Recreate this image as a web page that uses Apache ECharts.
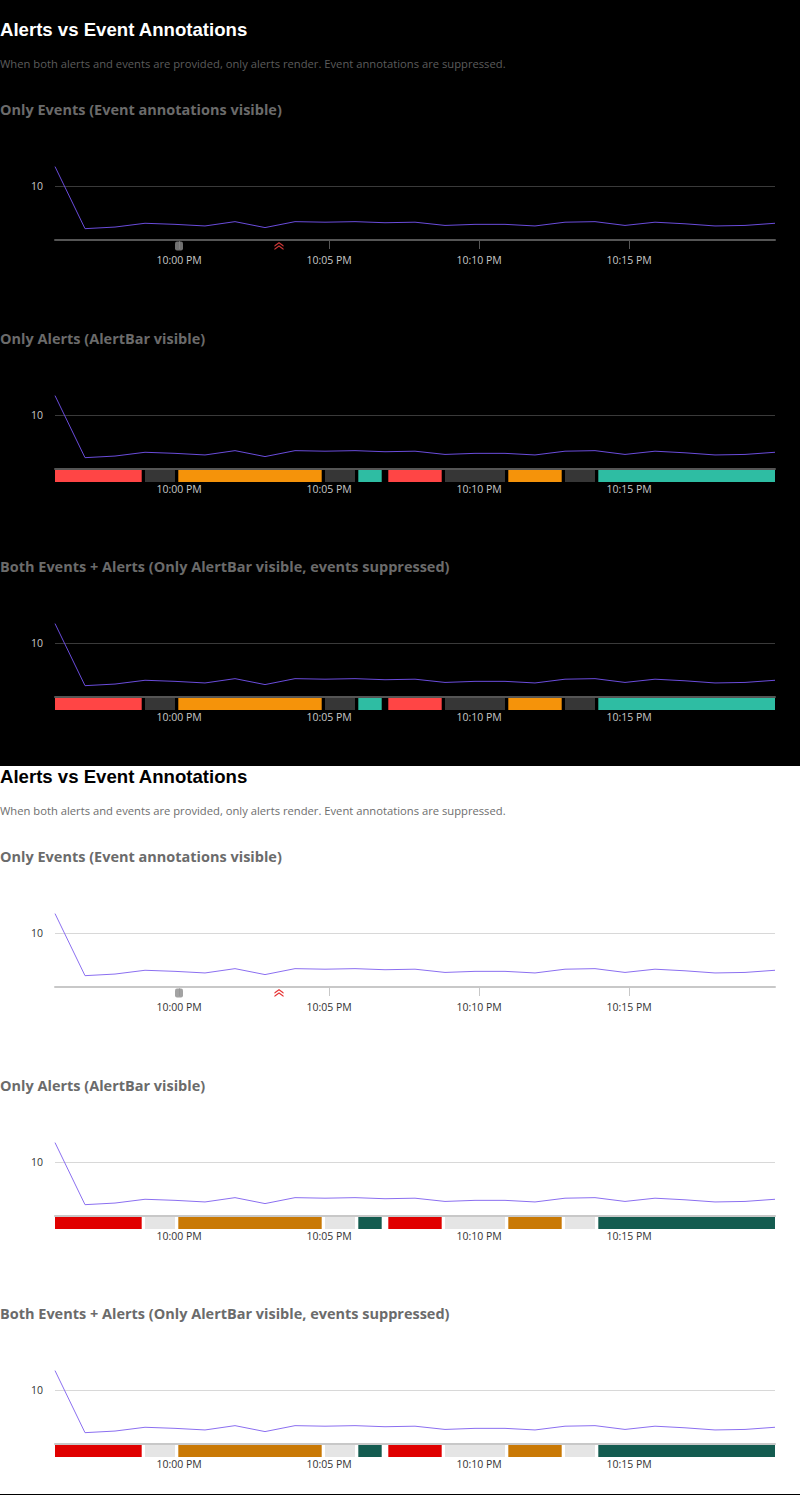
<!DOCTYPE html>
<html>
<head>
<meta charset="utf-8">
<title>Alerts vs Event Annotations</title>
<script src="https://cdn.jsdelivr.net/npm/echarts@6/dist/echarts.min.js"></script>
<style>
  html, body { margin: 0; padding: 0; }
  body { width: 800px; height: 1495px; position: relative; overflow: hidden; font-family: "Open Sans", sans-serif; }
  .section { position: absolute; left: 0; width: 800px; }
  .section.dark { top: 0; height: 766px; background: #000; }
  .section.light { top: 766px; height: 728px; background: #fff; border-bottom: 1px solid #000; }
  .section h1 { position: absolute; left: 0; margin: 0; font: bold 18.72px/22px "Liberation Sans", Arial, sans-serif; white-space: nowrap; }
  .section p { position: absolute; left: 0; margin: 0; font: 11px/14px "Open Sans", sans-serif; white-space: nowrap; }
  .section h3 { position: absolute; left: 0; margin: 0; font: bold 14px/18px "Open Sans", sans-serif; white-space: nowrap; }
  .chart { position: absolute; left: 0; width: 800px; height: 170px; }
</style>
</head>
<body>
<div class="section dark" id="dark"></div>
<div class="section light" id="light"></div>
<script>
// sample times and values of the metric line
const sampleTimes = ['21:55:52', '21:56:52', '21:57:52', '21:58:52', '21:59:52', '22:00:52', '22:01:52',
  '22:02:52', '22:03:52', '22:04:52', '22:05:52', '22:06:52', '22:07:52', '22:08:52', '22:09:52',
  '22:10:52', '22:11:52', '22:12:52', '22:13:52', '22:14:52', '22:15:52', '22:16:52', '22:17:52',
  '22:18:52', '22:19:52'];
const lineValues = [13.6, 2.1, 2.4, 3.1, 2.9, 2.6, 3.4, 2.3, 3.4, 3.3, 3.4, 3.2, 3.3, 2.7, 2.9,
  2.9, 2.6, 3.3, 3.4, 2.7, 3.3, 3.0, 2.6, 2.7, 3.1];

// alert bar segments
const alertStart = ['21:55:52', '21:58:52', '21:59:52', '22:04:52', '22:05:52', '22:06:52', '22:08:52', '22:10:52', '22:12:52', '22:13:52'];
const alertEnd   = ['21:58:52', '21:59:52', '22:04:52', '22:05:52', '22:06:52', '22:08:52', '22:10:52', '22:12:52', '22:13:52', '22:19:52'];
const alertState = ['critical', 'nodata', 'warning', 'nodata', 'ok', 'critical', 'nodata', 'warning', 'nodata', 'ok'];

// event annotations
const eventTimes = ['22:00:00', '22:03:20'];
const eventKinds = ['info', 'critical'];

// axis ticks
const xTickTimes = ['22:00:00', '22:05:00', '22:10:00', '22:15:00'];
const yTicks = [0, 10];

const blocks = [
  { title: 'Only Events (Event annotations visible)', events: true, alerts: false },
  { title: 'Only Alerts (AlertBar visible)', events: false, alerts: true },
  { title: 'Both Events + Alerts (Only AlertBar visible, events suppressed)', events: true, alerts: true }
];

const themes = {
  dark: {
    padTop: 19, title: '#ffffff', sub: '#5c5c5c', head: '#6b6b6b',
    label: '#c8c8c8', split: '#3a3a3a', axis: '#555555', line: '#6a4cdb',
    states: { critical: '#ff4545', nodata: '#363636', warning: '#f5930a', ok: '#2ebda3' },
    info: '#8c8c8c', crit: '#ff4545'
  },
  light: {
    padTop: 0, title: '#000000', sub: '#6e6e6e', head: '#6b6b6b',
    label: '#333333', split: '#d8d8d8', axis: '#c8c8c8', line: '#8b6ff0',
    states: { critical: '#e00000', nodata: '#e5e5e5', warning: '#c97905', ok: '#145c50' },
    info: '#8c8c8c', crit: '#e00000'
  }
};

const headCenters = [91, 319.5, 548];
const GAP = 3.3;

function ts(hms) {
  const p = hms.split(':').map(Number);
  return new Date(2024, 4, 14, p[0], p[1], p[2]).getTime();
}

function clock(v) {
  const d = new Date(v);
  let h = d.getHours();
  const ap = h >= 12 ? 'PM' : 'AM';
  h = h % 12 || 12;
  return h + ':' + String(d.getMinutes()).padStart(2, '0') + ' ' + ap;
}

// scale a text element's font so its width matches the reference
function fitFont(el, target) {
  const cs = getComputedStyle(el);
  const ctx = document.createElement('canvas').getContext('2d');
  ctx.font = cs.fontWeight + ' 100px ' + cs.fontFamily;
  const w = ctx.measureText(el.textContent).width;
  return (target * 100 / w).toFixed(2) + 'px';
}

const chevron = 'path://M0,4 L4.5,0 L9,4 L9,6 L4.5,2 L0,6 Z M0,8 L4.5,4 L9,8 L9,10 L4.5,6 L0,10 Z';

function buildOption(th, block) {
  const xMin = ts(sampleTimes[0]);
  const xMax = ts(sampleTimes[sampleTimes.length - 1]);
  const ticks = xTickTimes.map(ts);
  const series = [{
    type: 'line',
    data: sampleTimes.map((t, i) => [ts(t), lineValues[i]]),
    showSymbol: false,
    symbol: 'none',
    lineStyle: { width: 1, color: th.line },
    z: 3
  }];

  if (block.alerts) {
    series.push({
      type: 'custom',
      clip: false,
      z: 4,
      encode: { x: [0, 1] },
      data: alertStart.map((s, i) => [ts(s), ts(alertEnd[i]), i]),
      renderItem(params, api) {
        const i = api.value(2);
        const st = alertState[i];
        const p1 = api.coord([api.value(0), 0]);
        const p2 = api.coord([api.value(1), 0]);
        const cs = params.coordSys;
        let x1 = p1[0], x2 = p2[0];
        if (st !== 'nodata') {
          if (x1 > cs.x + 1) x1 += GAP;
          if (x2 < cs.x + cs.width - 1) x2 -= GAP;
        }
        return {
          type: 'rect',
          shape: { x: x1, y: p1[1] + 1, width: x2 - x1, height: 12 },
          style: { fill: th.states[st] }
        };
      }
    });
  } else if (block.events) {
    series.push({
      type: 'scatter',
      clip: false,
      z: 4,
      symbolOffset: [0, 6],
      data: eventTimes.map((t, i) => eventKinds[i] === 'info'
        ? { value: [ts(t), 0], symbol: 'roundRect', symbolSize: [8, 9], itemStyle: { color: th.info } }
        : { value: [ts(t), 0], symbol: chevron, symbolSize: [9, 8], itemStyle: { color: th.crit } })
    });
  }

  return {
    backgroundColor: 'transparent',
    animation: false,
    textStyle: { fontFamily: '"Open Sans", sans-serif' },
    grid: { left: 55, right: 25, top: 36.6, height: 73.4 },
    xAxis: {
      type: 'value',
      min: xMin,
      max: xMax,
      axisLine: { show: true, lineStyle: { color: th.axis, width: 2 } },
      axisTick: { show: true, length: 9, customValues: ticks, lineStyle: { color: th.axis } },
      splitLine: { show: false },
      axisLabel: {
        color: th.label, fontSize: 10.5, margin: 14, fontFamily: '"Open Sans", sans-serif',
        customValues: ticks,
        formatter: v => clock(v)
      }
    },
    yAxis: {
      type: 'value',
      min: yTicks[0],
      max: 'dataMax',
      interval: yTicks[1] - yTicks[0],
      axisLine: { show: false },
      axisTick: { show: false },
      splitLine: { show: true, showMinLine: false, showMaxLine: false, lineStyle: { color: th.split } },
      axisLabel: {
        color: th.label, fontSize: 10.5, margin: 12, fontFamily: '"Open Sans", sans-serif',
        showMinLabel: false, showMaxLabel: false
      }
    },
    series
  };
}

function buildSection(id) {
  const th = themes[id];
  const root = document.getElementById(id);
  const base = th.padTop;

  const h1 = document.createElement('h1');
  h1.textContent = 'Alerts vs Event Annotations';
  h1.style.top = base + 'px';
  h1.style.color = th.title;
  root.appendChild(h1);
  h1.style.fontSize = fitFont(h1, 248);

  const p = document.createElement('p');
  p.textContent = 'When both alerts and events are provided, only alerts render. Event annotations are suppressed.';
  p.style.top = (base + 45 - 7) + 'px';
  p.style.color = th.sub;
  root.appendChild(p);
  p.style.fontSize = fitFont(p, 506);

  let headSize = null;
  blocks.forEach((block, k) => {
    const c = base + headCenters[k];
    const h3 = document.createElement('h3');
    h3.textContent = block.title;
    h3.style.top = (c - 9) + 'px';
    h3.style.color = th.head;
    root.appendChild(h3);
    if (!headSize) headSize = fitFont(h3, 282);
    h3.style.fontSize = headSize;

    const div = document.createElement('div');
    div.className = 'chart';
    div.style.top = (c + 20) + 'px';
    root.appendChild(div);
    const chart = echarts.init(div, null, { renderer: 'svg' });
    chart.setOption(buildOption(th, block));
  });
}

buildSection('dark');
buildSection('light');
</script>
</body>
</html>
